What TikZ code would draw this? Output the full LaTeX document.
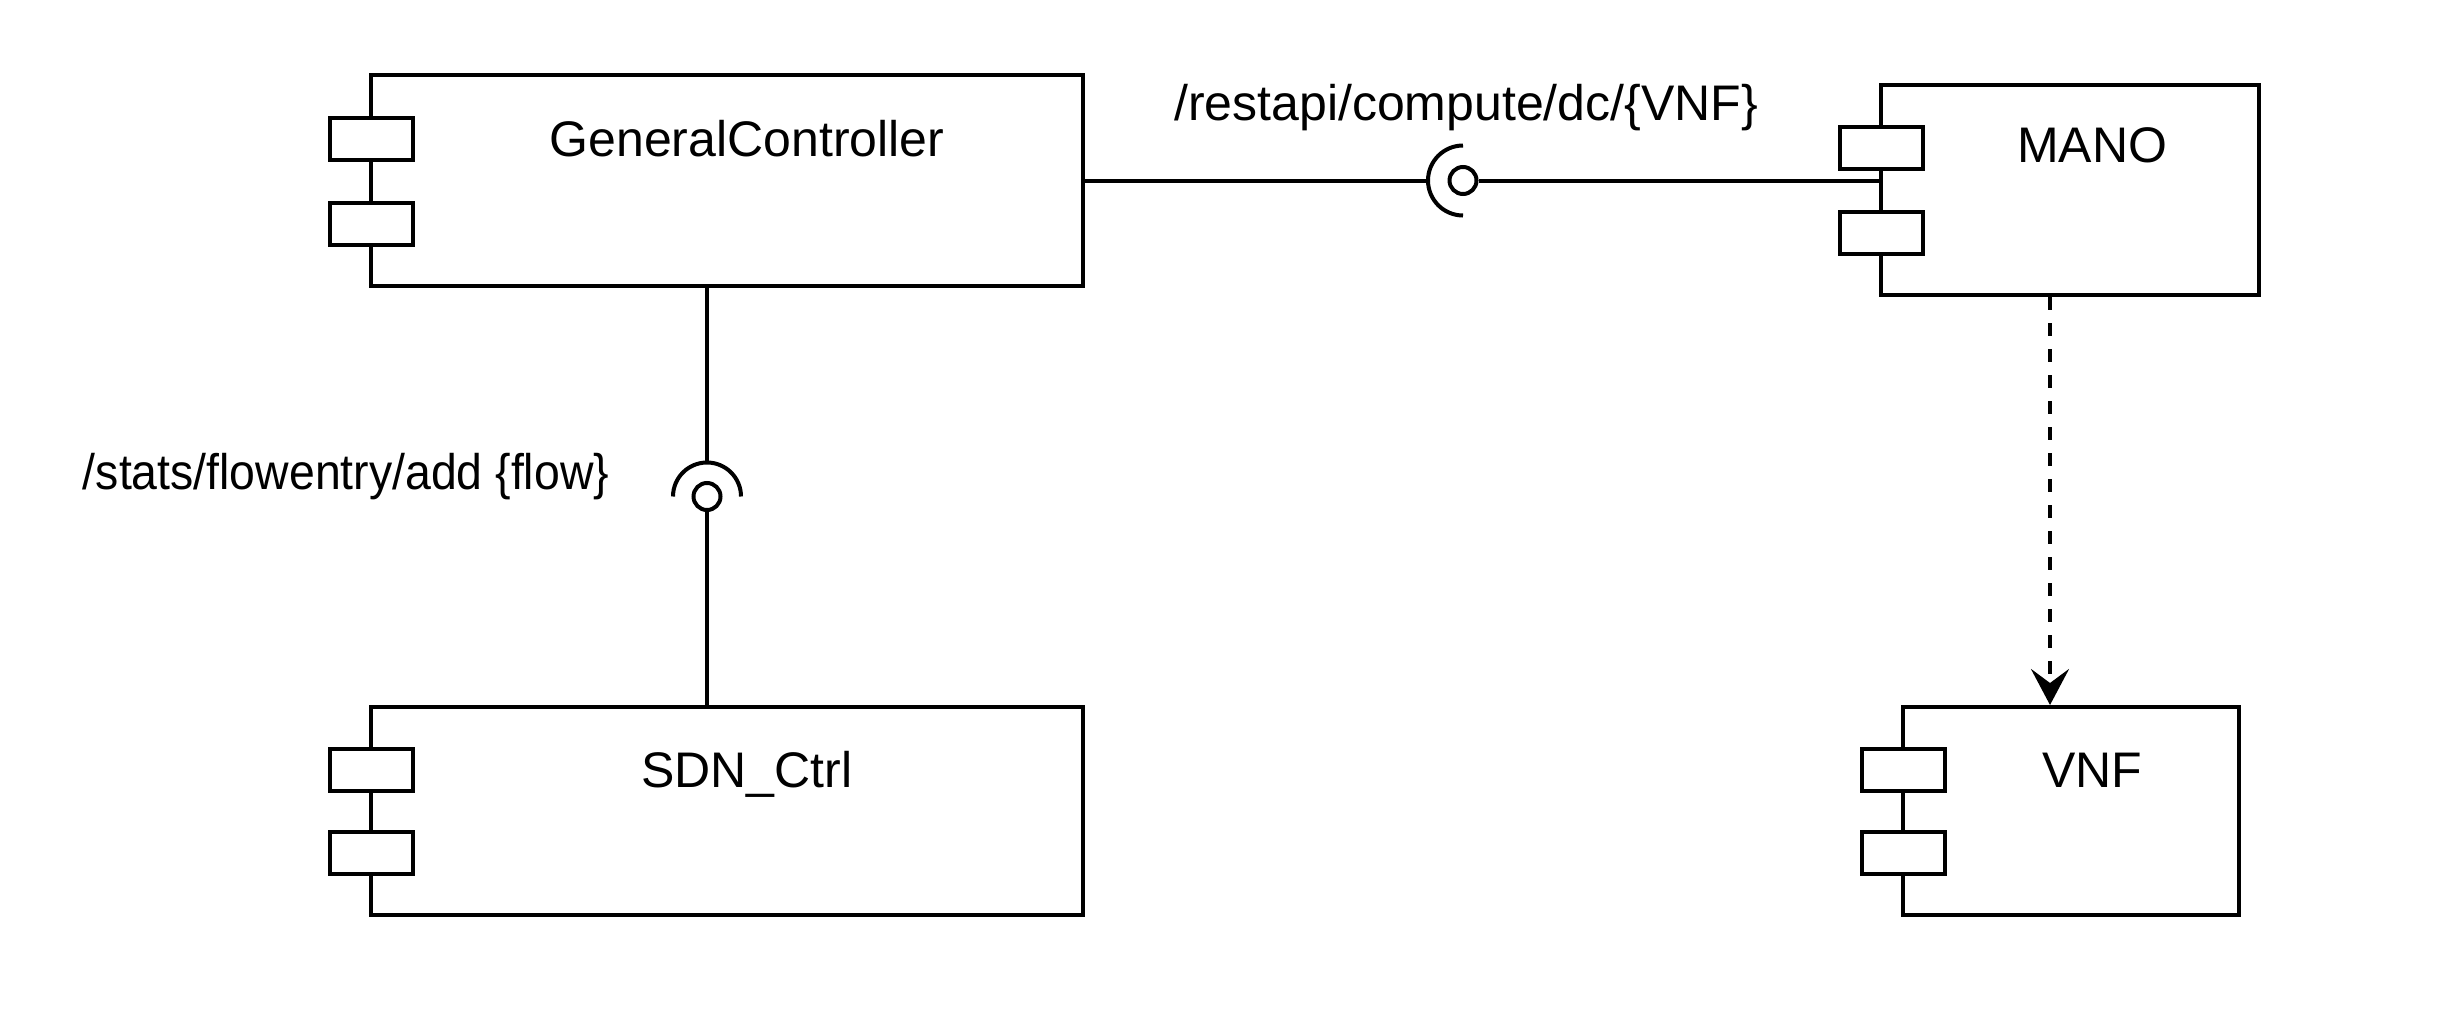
\documentclass[tikz,border=0pt]{standalone}
\usepackage{fontspec}
\setmainfont{Liberation Sans}
\usetikzlibrary{arrows.meta}
\begin{document}
\begin{tikzpicture}[x=0.5pt,y=-0.5pt,
  lw/.style={line width=2pt},
  compbox/.style={lw, draw=black, fill=white, rectangle, inner sep=0pt},
  portbox/.style={lw, draw=black, fill=white, rectangle, inner sep=0pt, minimum width=41.5pt, minimum height=21pt},
  lbl/.style={inner sep=0pt, anchor=base, font=\fontsize{25}{30}\selectfont},
  ball/.style={lw, draw=black, fill=white, circle, inner sep=0pt, minimum size=13.5pt},
  conn/.style={lw, draw=black},
  dep/.style={lw, draw=black, dash pattern=on 6.5pt off 6.5pt, -{Stealth[length=18pt,width=19pt,inset=7pt]}}
]
\useasboundingbox (0,0) rectangle (2462,1028);

% GeneralController
\node[compbox, minimum width=356pt, minimum height=105.5pt] (gc) at (727,180.5) {};
\node[portbox] (gcp1) at (371,138.5) {};
\node[portbox] (gcp2) at (371,223.5) {};
\node[lbl] (gct) at (747,156) {GeneralController};

% MANO
\node[compbox, minimum width=189pt, minimum height=105pt] (mano) at (2070,190) {};
\node[portbox] (manop1) at (1881,148) {};
\node[portbox] (manop2) at (1881,233) {};
\node[lbl] (manot) at (2092,162) {MANO};

% SDN_Ctrl
\node[compbox, minimum width=356pt, minimum height=104pt] (sdn) at (727,811) {};
\node[portbox] (sdnp1) at (371,770) {};
\node[portbox] (sdnp2) at (371,852.5) {};
\node[lbl] (sdnt) at (747,787) {SDN\_Ctrl};

% VNF
\node[compbox, minimum width=168pt, minimum height=104pt] (vnf) at (2071,811) {};
\node[portbox] (vnfp1) at (1903,770) {};
\node[portbox] (vnfp2) at (1903,852.5) {};
\node[lbl] (vnft) at (2092,787) {VNF};

% horizontal lollipop GeneralController -- MANO
\node[ball] (b1) at (1463,180.5) {};
\coordinate (s1) at (1428,180.5);
\draw[conn] (gc.east) -- (s1);
\draw[conn] (1463,145.5) arc[start angle=270, end angle=90, radius=35];
\draw[conn] (b1.east) -- (b1.east -| mano.west);
\node[lbl] (l1) at (1466,120) {/restapi/compute/dc/\{VNF\}};

% vertical lollipop GeneralController -- SDN_Ctrl
\node[ball] (b2) at (707,496.5) {};
\coordinate (s2) at (707,462.5);
\draw[conn] (b2 |- gc.south) -- (s2);
\draw[conn] (673,496.5) arc[start angle=180, end angle=360, radius=34];
\draw[conn] (b2.south) -- (b2 |- sdn.north);
\node[lbl] (l2) at (346,489) {\scalebox{0.928}[1]{/stats/flowentry/add \{flow\}}};

% dependency MANO -> VNF
\coordinate (ax) at (2050,0);
\draw[dep] (mano.south -| ax) -- (vnf.north -| ax);
\end{tikzpicture}
\end{document}
